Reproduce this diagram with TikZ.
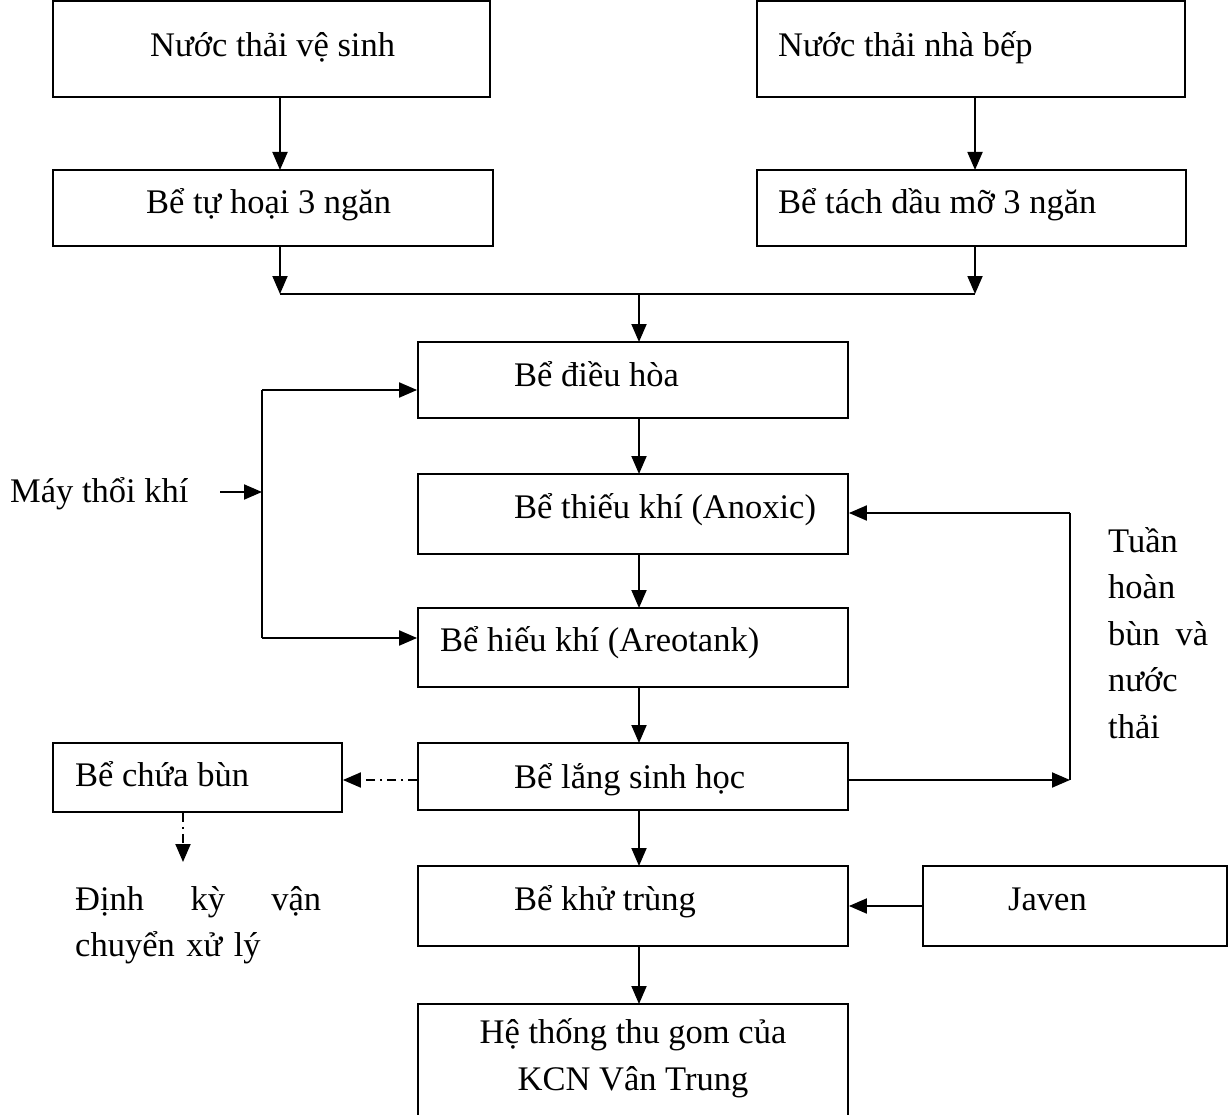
\documentclass[tikz,border=0pt]{standalone}
\usepackage{fontspec}
\setmainfont{Liberation Serif}
\usetikzlibrary{arrows.meta}
\begin{document}
\begin{tikzpicture}[x=1pt,y=-1pt,
  box/.style={draw,line width=1.8pt,rectangle,inner sep=0pt},
  txt/.style={font=\fontsize{34.5}{46.5}\selectfont,inner sep=0pt,anchor=base west},
  flow/.style={line width=1.9pt,-{Triangle[length=18pt,width=15pt]}},
  wire/.style={line width=1.9pt},
  dashdot/.style={flow,dash pattern=on 9pt off 5pt on 2pt off 5pt}]
\useasboundingbox (0,0) rectangle (1228,1115);

% boxes (corner to corner)
\node[box,minimum width=437pt,minimum height=96pt] (vs) at (271.5,49) {};
\node[box,minimum width=428pt,minimum height=96pt] (nb) at (971,49) {};
\node[box,minimum width=440pt,minimum height=76pt] (th) at (273,208) {};
\node[box,minimum width=429pt,minimum height=76pt] (td) at (971.5,208) {};
\node[box,minimum width=430pt,minimum height=76pt] (dh) at (633,380) {};
\node[box,minimum width=430pt,minimum height=80pt] (tk) at (633,514) {};
\node[box,minimum width=430pt,minimum height=79pt] (hk) at (633,647.5) {};
\node[box,minimum width=430pt,minimum height=67pt] (ls) at (633,776.5) {};
\node[box,minimum width=289pt,minimum height=69pt] (cb) at (197.5,777.5) {};
\node[box,minimum width=430pt,minimum height=80pt] (kt) at (633,906) {};
\node[box,minimum width=304pt,minimum height=80pt] (jv) at (1075,906) {};
\node[box,minimum width=430pt,minimum height=112pt] (tg) at (633,1060) {};

% texts
\node[txt] (vst) at (150,57) {Nước thải vệ sinh};
\node[txt] (nbt) at (778,57) {Nước thải nhà bếp};
\node[txt] (tht) at (146,214) {Bể tự hoại 3 ngăn};
\node[txt] (tdt) at (778,214) {Bể tách dầu mỡ 3 ngăn};
\node[txt] (dht) at (514,386) {Bể điều hòa};
\node[txt] (tkt) at (514,518) {Bể thiếu khí (Anoxic)};
\node[txt] (hkt) at (440,651) {Bể hiếu khí (Areotank)};
\node[txt] (lst) at (514,788) {Bể lắng sinh học};
\node[txt] (cbt) at (75,786) {Bể chứa bùn};
\node[txt] (ktt) at (514,910) {Bể khử trùng};
\node[txt] (jvt) at (1008,910) {Javen};
\node[txt,anchor=base] (tgt1) at (633,1043) {Hệ thống thu gom của};
\node[txt,anchor=base] (tgt2) at (633,1090) {KCN Vân Trung};
\node[txt] (mtk) at (10,502) {Máy thổi khí};
\node[txt,text width=100pt,align=left] (thn) at (1108,552) {Tuần\\hoàn\\bùn\hfill và\\nước\\thải};
\node[txt,text width=246pt,align=left] (dky) at (75,910) {Định\hfill kỳ\hfill vận\\chuyển xử lý};

% junction points
\coordinate (jL) at (280,294);
\coordinate (jR) at (975,294);
\coordinate (jM) at (639,294);
\coordinate (air) at (262,492);
\coordinate (airin) at (220,492);
\coordinate (aT) at (262,390);
\coordinate (aB) at (262,638);
\coordinate (rB) at (1070,780);
\coordinate (rT) at (1070,513);
\coordinate (sl) at (183,862);

% main line
\draw[flow] (280,97) -- (280,170);
\draw[flow] (975,97) -- (975,170);
\draw[flow] (280,246) -- (jL);
\draw[flow] (975,246) -- (jR);
\draw[wire] (jL) -- (jR);
\draw[flow] (jM) -- (639,342);
\draw[flow] (639,418) -- (639,474);
\draw[flow] (639,554) -- (639,608);
\draw[flow] (639,687) -- (639,743);
\draw[flow] (639,810) -- (639,866);
\draw[flow] (639,946) -- (639,1004);

% air blower
\draw[flow] (airin) -- (air);
\draw[wire] (aT) -- (aB);
\draw[flow] (aT) -- (dh.west |- aT);
\draw[flow] (aB) -- (hk.west |- aB);

% recirculation
\draw[flow] (ls.east |- rB) -- (rB);
\draw[wire] (rB) -- (rT);
\draw[flow] (rT) -- (tk.east |- rT);

% disinfectant
\draw[flow] (jv.west) -- (kt.east |- jv.west);

% sludge
\draw[dashdot] (ls.west |- 0,780) -- (cb.east |- 0,780);
\draw[dashdot] (cb.south -| sl) -- (sl);
\end{tikzpicture}
\end{document}
